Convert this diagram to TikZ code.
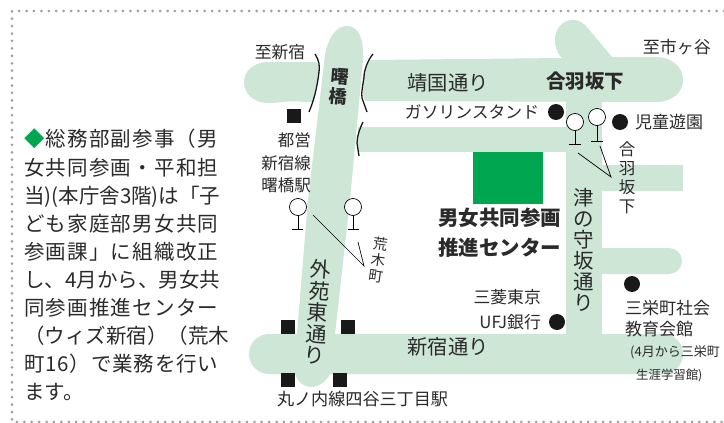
\documentclass[tikz,border=0pt]{standalone}
\usepackage{fontspec}
\setmainfont{Noto Sans CJK JP}
\definecolor{roadc}{HTML}{CDE6D6}
\definecolor{greenc}{HTML}{00A650}
\definecolor{inkc}{HTML}{2A2A2A}
\definecolor{dotc}{HTML}{A0A0A0}
\makeatletter
\newif\if@spreadfirst
\newcommand{\spreadline}[1]{\hbox to 194pt{\@spreadfirsttrue\@tfor\@sp:=#1\do{\if@spreadfirst\@spreadfirstfalse\else\hfil\fi\@sp}}}
\makeatother
\newcommand{\fsz}[1]{\fontsize{#1}{#1}\selectfont}
\newcommand{\fszb}[2]{\fontsize{#1}{#2}\selectfont}
\tikzset{
  road/.style={fill=roadc,draw=none},
  lbl/.style={inner sep=0pt,text=inkc,font=\fsz{16}},
  stack/.style={inner sep=0pt,text=inkc,align=center},
  dotline/.style={draw=dotc,line width=3pt,line cap=round,dash pattern=on 0pt off 7.42pt},
  bridge/.style={draw=black!90,line width=1.3pt},
  thin line/.style={draw=black,line width=0.7pt},
  treetop/.style={circle,draw=black,fill=white,line width=0.7pt,minimum size=17pt,inner sep=0pt},
  station/.style={fill=black!90,minimum size=14pt,inner sep=0pt},
  place/.style={circle,fill=black!90,minimum size=16pt,inner sep=0pt},
}
\begin{document}
\begin{tikzpicture}[x=1pt,y=-1pt]
\useasboundingbox (0,0) rectangle (724,423);
\fill[white] (0,0) rectangle (724,423);
% frame
\draw[dotline] (724,11) -- (12,11) -- (12,422) -- (724,422);
% roads
\fill[road,rounded corners=20pt] (249,334) rectangle (683,374);
\fill[road] (566,100) rectangle (602,340);
\fill[road] (358,127) rectangle (570,152);
\fill[road] (600,165) rectangle (683,191);
\fill[road,rounded corners=13pt] (590,248) rectangle (682,274);
% Yasukuni left stub
\fill[road] (319,68) .. controls (318,61) and (316,62) .. (312,62) -- (268,62)
  .. controls (254,62) and (244,71) .. (244,82)
  .. controls (244,94) and (254,103) .. (268,103)
  .. controls (280,103) and (290,100) .. (304,102) -- (313,102)
  .. controls (316,92) and (319,80) .. (319,68) -- cycle;
% Yasukuni right with branch
\fill[road] (364,77) .. controls (365,68) and (367,61) .. (372,60) -- (562,58)
  .. controls (556,52) and (555,46) .. (555,40)
  .. controls (555,28) and (563,20) .. (573,20)
  .. controls (578,20) and (582,22) .. (586,26)
  -- (612,57) -- (655,57)
  .. controls (672,57) and (683,67) .. (683,80)
  .. controls (683,93) and (672,102) .. (655,102)
  -- (366,101) .. controls (362,100) and (363,88) .. (364,77) -- cycle;
% Gaien-higashi
\fill[road] (347,26) .. controls (360,26) and (364,42) .. (363,60)
  -- (350,200) -- (335,334) -- (330,374)
  .. controls (326,382) and (318,387) .. (311,387)
  .. controls (304,387) and (298,382) .. (295,374) -- (297,334) -- (308,200) -- (325,55)
  .. controls (328,38) and (336,26) .. (347,26) -- cycle;
% centre block
\fill[greenc] (473,152) rectangle (543,204);
% bridge marks
\draw[bridge] (315,54) .. controls (319,60) and (320,66) .. (319,72) .. controls (317,88) and (314,100) .. (309,112);
\draw[bridge] (373,54) .. controls (368,60) and (364,70) .. (364,77) .. controls (363,85) and (361,92) .. (362,98) -- (367,112);
\draw[bridge] (363,122) .. controls (360,128) and (357,136) .. (357,143) -- (359,156);
% trees and leaders
\node[treetop] (t1) at (575,122) {};
\coordinate (t1b) at (575,144); \coordinate (t1l) at (569,144); \coordinate (t1r) at (581,144);
\node[treetop] (t2) at (597,117) {};
\coordinate (t2b) at (597,141); \coordinate (t2l) at (591,141); \coordinate (t2r) at (603,141);
\node[treetop] (t3) at (298,207) {};
\coordinate (t3b) at (298,229); \coordinate (t3l) at (292,229); \coordinate (t3r) at (303,229);
\node[treetop] (t4) at (353,207) {};
\coordinate (t4b) at (353,229); \coordinate (t4l) at (348,229); \coordinate (t4r) at (359,229);
\foreach \t in {t1,t2,t3,t4}{
  \draw[thin line] (\t) -- (\t b);
  \draw[thin line] (\t l) -- (\t r);
}
\coordinate (la) at (578,153); \coordinate (lb) at (600,146); \coordinate (lc) at (611,177);
\draw[thin line] (la) -- (lc) -- (lb);
\coordinate (ld) at (313,215); \coordinate (le) at (358,242); \coordinate (lf) at (364,266);
\draw[thin line] (ld) -- (lf) -- (le);
% stations
\node[station] (s1) at (294,116) {};
\node[station] (s2) at (287.5,327) {};
\node[station] (s3) at (347.5,327) {};
\node[station] (s4) at (287.5,380) {};
\node[station] (s5) at (339.5,380) {};
% places
\node[place] (p1) at (556,112) {};
\node[place] (p2) at (620,122) {};
\node[place] (p3) at (632,284) {};
\node[place] (p4) at (557,322) {};
% map labels
\node[lbl,font=\fsz{16.8}] (to1) at (280,52) {至新宿};
\node[lbl,font=\fsz{17},anchor=east] (to2) at (711,47) {至市ヶ谷};
\node[lbl,font=\fsz{20.3}] (r1) at (448,83) {靖国通り};
\node[lbl,font=\bfseries\fsz{19.5}] (r2) at (585,81) {合羽坂下};
\node[lbl,font=\fsz{16.8}] (g1) at (472,112) {ガソリンスタンド};
\node[lbl,font=\fsz{17},anchor=west] (g2) at (635,122) {児童遊園};
\node[stack,font=\fszb{16.5}{22.5},anchor=east,align=right] (sta) at (311,163) {都営\\新宿線\\曙橋駅};
\node[stack,font=\bfseries\fszb{18}{20},rotate=-5] (br) at (339,87) {曙\\橋};
\node[stack,font=\fszb{16.5}{19}] (ha) at (627,178) {合\\羽\\坂\\下};
\node[stack,font=\fszb{20.5}{21}] (ts) at (584,250) {津\\の\\守\\坂\\通\\り};
\node[stack,font=\fszb{21}{21.6},rotate=-4] (ga) at (318,312) {外\\苑\\東\\通\\り};
\node[stack,font=\fszb{14.5}{16},rotate=-8] (ar) at (378,260) {荒\\木\\町};
\node[lbl,font=\bfseries\fsz{20.5}] (c1) at (499.5,218) {男女共同参画};
\node[lbl,font=\bfseries\fsz{20.5}] (c2) at (499.5,248) {推進センター};
\node[lbl,font=\fsz{16.8},anchor=east] (m1) at (541,297) {三菱東京};
\node[lbl,font=\fsz{16.8},anchor=east] (m2) at (541,322) {UFJ銀行};
\node[lbl,font=\fsz{17},anchor=west] (e1) at (625,308) {三栄町社会};
\node[lbl,font=\fsz{17},anchor=west] (e2) at (625,329) {教育会館};
\node[lbl,font=\fsz{13},anchor=west] (e3) at (630,352) {(4月から三栄町};
\node[lbl,font=\fsz{12.4},anchor=west] (e4) at (636,375) {生涯学習館)};
\node[lbl,font=\fsz{20.3}] (r3) at (448,347) {新宿通り};
\node[lbl,font=\fsz{17.1}] (st) at (362.5,399) {丸ノ内線四谷三丁目駅};
% left text
\node[inner sep=0pt,text=inkc,font=\fszb{20.5}{28.1},anchor=north west,align=left] (body) at (24,129) {%
\spreadline{{\textcolor{greenc}{◆}}総務部副参事（男}\\
\spreadline{女共同参画・平和担}\\
\spreadline{当)(本庁舎3階)は「子}\\
\spreadline{ども家庭部男女共同}\\
\spreadline{参画課」に組織改正}\\
\spreadline{し、4月から、男女共}\\
\spreadline{同参画推進センター}\\
\spreadline{（ウィズ新宿）（荒木}\\
\spreadline{町16）で業務を行い}\\
ます。};
\end{tikzpicture}
\end{document}
